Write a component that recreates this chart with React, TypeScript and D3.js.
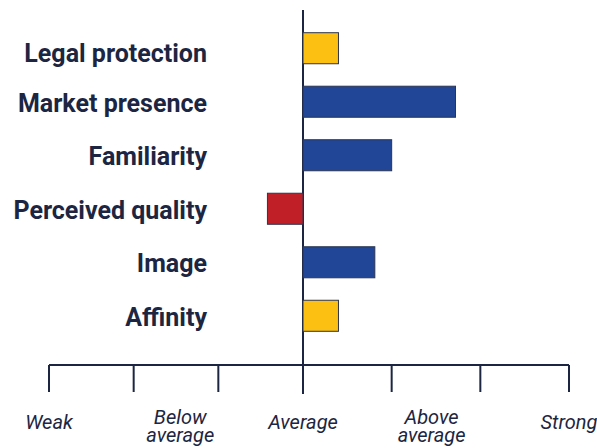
import React, { useRef, useEffect } from "react";
import * as d3 from "d3";

const categories = [
  "Legal protection",
  "Market presence",
  "Familiarity",
  "Perceived quality",
  "Image",
  "Affinity",
];
const scores = [0.4, 1.72, 1.0, -0.42, 0.81, 0.4];
const barColors = ["#fbc012", "#214597", "#214597", "#c11f27", "#214597", "#fbc012"];
const tickValues = [-3, -2, -1, 0, 1, 2, 3];
const scaleLabels = [
  { value: -3, lines: ["Weak"] },
  { value: -1.45, lines: ["Below", "average"] },
  { value: 0, lines: ["Average"] },
  { value: 1.45, lines: ["Above", "average"] },
  { value: 3, lines: ["Strong"] },
];

const ink = "#1c2642";

const App = () => {
  const ref = useRef<SVGSVGElement>(null);

  useEffect(() => {
    const svg = d3.select(ref.current);
    svg.selectAll("*").remove();

    const width = 597;
    const height = 448;

    // average sits slightly left of centre in the reference
    const x = d3.scaleLinear().domain([-3, 0, 3]).range([49, 303, 569]);
    const y = d3
      .scaleBand()
      .domain(categories)
      .range([22, 342])
      .paddingInner(0.42)
      .paddingOuter(0.2);

    const axisY = 365;

    // vertical average line
    svg
      .append("line")
      .attr("x1", x(0))
      .attr("x2", x(0))
      .attr("y1", 10)
      .attr("y2", axisY)
      .attr("stroke", ink)
      .attr("stroke-width", 2);

    // bars
    svg
      .selectAll(".bar")
      .data(scores)
      .enter()
      .append("rect")
      .attr("class", "bar")
      .attr("x", (d) => x(Math.min(0, d)))
      .attr("y", (_, i) => y(categories[i])!)
      .attr("width", (d) => Math.abs(x(d) - x(0)))
      .attr("height", y.bandwidth())
      .attr("fill", (_, i) => barColors[i])
      .attr("stroke", "#2b3550")
      .attr("stroke-width", 1);

    // category labels (the first one sits a little low in the original)
    svg
      .selectAll(".cat")
      .data(categories)
      .enter()
      .append("text")
      .attr("class", "cat")
      .attr("x", 207)
      .attr("y", (d, i) => y(d)! + y.bandwidth() / 2 + (i === 0 ? 5 : 1))
      .attr("dy", "0.355em")
      .attr("text-anchor", "end")
      .attr("font-family", "Roboto, sans-serif")
      .attr("font-weight", 700)
      .attr("font-size", 25)
      .attr("fill", ink)
      .text((d) => d);

    // horizontal scale axis
    const axis = svg.append("g");
    axis
      .append("line")
      .attr("x1", x(-3))
      .attr("x2", x(3))
      .attr("y1", axisY)
      .attr("y2", axisY)
      .attr("stroke", ink)
      .attr("stroke-width", 2);
    axis
      .selectAll(".tick")
      .data(tickValues)
      .enter()
      .append("line")
      .attr("class", "tick")
      .attr("x1", (d) => x(d))
      .attr("x2", (d) => x(d))
      .attr("y1", axisY)
      .attr("y2", (d) => (d === 0 ? 394 : 392))
      .attr("stroke", ink)
      .attr("stroke-width", 2);

    const labels = axis
      .selectAll(".scale-label")
      .data(scaleLabels)
      .enter()
      .append("text")
      .attr("class", "scale-label")
      .attr("text-anchor", "middle")
      .attr("font-family", "Roboto, sans-serif")
      .attr("font-style", "italic")
      .attr("font-size", 20)
      .attr("fill", ink)
      .attr("transform", (d) => `translate(${x(d.value)},${d.lines.length > 1 ? 424 : 429})`);

    labels
      .selectAll("tspan")
      .data((d) => d.lines)
      .enter()
      .append("tspan")
      .attr("x", 0)
      .attr("dy", (_, i) => (i === 0 ? 0 : 17.5))
      .text((d) => d);

    svg.attr("width", width).attr("height", height);
  }, []);

  return <svg ref={ref} style={{ position: "absolute", left: 0, top: 0 }} />;
};

export default App;
